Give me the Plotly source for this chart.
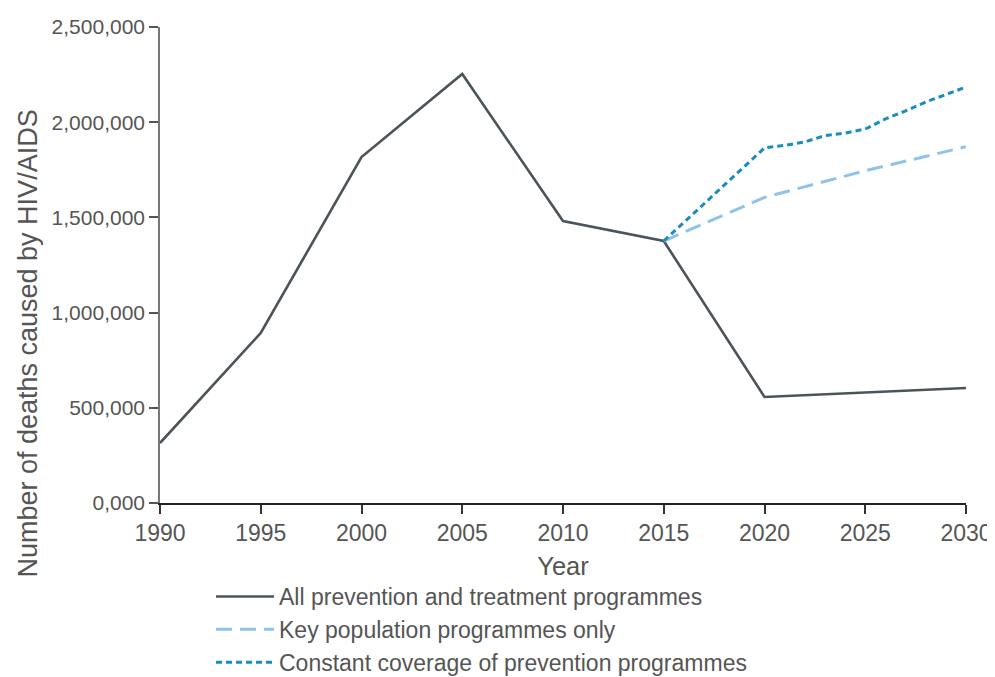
import plotly.graph_objects as go

years_all = [1990, 1995, 2000, 2005, 2010, 2015, 2020, 2025, 2030]
deaths_all = [315000, 893000, 1817000, 2253000, 1481000, 1376000, 557000, 580000, 604000]

years_key = [2015, 2020, 2025, 2030]
deaths_key = [1376000, 1605000, 1745000, 1871000]

years_const = [2015, 2020, 2021, 2022, 2023, 2024, 2025, 2026, 2027, 2028, 2029, 2030]
deaths_const = [1376000, 1865000, 1878000, 1896000, 1930000, 1943000, 1964000,
                2017000, 2059000, 2106000, 2145000, 2185000]

x_ticks = [1990, 1995, 2000, 2005, 2010, 2015, 2020, 2025, 2030]
y_ticks = [0, 500000, 1000000, 1500000, 2000000, 2500000]
y_ticklabels = ["0,000", "500,000", "1,000,000", "1,500,000", "2,000,000", "2,500,000"]

FONT = "Liberation Sans, Arial, Helvetica, sans-serif"
TXT = "#555555"

fig = go.Figure()
fig.add_trace(go.Scatter(x=years_all, y=deaths_all, mode="lines",
                         name="All prevention and treatment programmes",
                         line=dict(color="#4b5459", width=2.6)))
fig.add_trace(go.Scatter(x=years_key, y=deaths_key, mode="lines",
                         name="Key population programmes only",
                         line=dict(color="#8fc3ea", width=3, dash="16px,8px")))
fig.add_trace(go.Scatter(x=years_const, y=deaths_const, mode="lines",
                         name="Constant coverage of prevention programmes",
                         line=dict(color="#1a8dc0", width=3, dash="6px,4px")))

fig.update_layout(
    width=995, height=677,
    margin=dict(l=151.5, r=37, t=19, b=182, autoexpand=False),
    paper_bgcolor="white", plot_bgcolor="white",
    font=dict(family=FONT, color=TXT, size=21),
    showlegend=True,
    legend=dict(xref="container", yref="container",
                x=203 / 995, y=1 - 567 / 677, xanchor="left", yanchor="top",
                orientation="v", font=dict(size=23, color=TXT),
                itemwidth=58, bgcolor="rgba(0,0,0,0)"),
    xaxis=dict(range=[1990, 2030], tickmode="array", tickvals=x_ticks,
               showgrid=False, zeroline=False, showline=True,
               linecolor="#222222", linewidth=1.5,
               ticks="outside", ticklen=9, tickcolor="#333333", tickwidth=1.5,
               tickfont=dict(size=23, color=TXT),
               title=dict(text="Year", font=dict(size=25.5, color=TXT), standoff=12)),
    yaxis=dict(range=[0, 2500000], tickmode="array", tickvals=y_ticks,
               ticktext=y_ticklabels,
               showgrid=False, zeroline=False, showline=True,
               linecolor="#777777", linewidth=1.5,
               ticks="outside", ticklen=9, tickcolor="#555555", tickwidth=1.5,
               tickfont=dict(size=21, color=TXT)),
    annotations=[dict(text="Number of deaths caused by HIV/AIDS",
                      xref="paper", yref="paper",
                      x=(19 - 151.5) / 806.5, y=(495 - 336) / 476,
                      xanchor="center", yanchor="middle", textangle=-90,
                      showarrow=False, font=dict(size=27, color=TXT))],
)

fig.write_html("out.html")
